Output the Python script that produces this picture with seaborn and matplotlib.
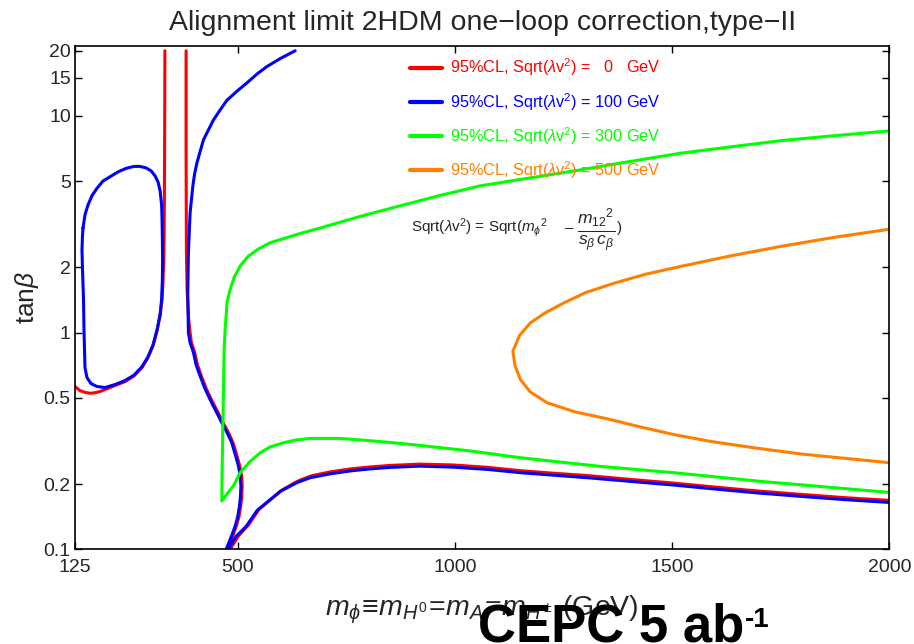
import matplotlib
matplotlib.use("Agg")
import matplotlib.pyplot as plt
import seaborn as sns
from matplotlib.lines import Line2D
from matplotlib.ticker import FixedLocator, FixedFormatter, NullLocator

# ---------------- data ----------------
# blue (100 GeV): closed loop at low mass
blue_loop_x = [143.4, 148, 155, 164.2, 175.7, 189.5, 205.7, 224.1, 242.5, 261, 274.8, 288.6, 300.2, 309.4,
               316.3, 320.9, 324.4, 325.5, 326.2, 326.7, 326.2, 324.4, 320.9, 314, 304.8, 293.2, 279.4, 261,
               240.2, 217.2, 194.1, 175.7, 161.9, 152.7, 148, 146.9, 145.7, 144.6, 142.3, 141.1, 142.3, 143.4]
blue_loop_y = [3.04, 3.50, 3.89, 4.29, 4.64, 5.01, 5.24, 5.52, 5.73, 5.85, 5.85, 5.76, 5.58, 5.29,
               4.95, 4.52, 3.89, 3.32, 2.68, 2.17, 1.755, 1.42, 1.21, 1.032, 0.88, 0.775, 0.697, 0.637,
               0.601, 0.576, 0.558, 0.564, 0.582, 0.619, 0.689, 0.835, 1.032, 1.42, 1.95, 2.41, 2.83, 3.04]
# blue right branch (top -> bottom)
blue_r_x = [632, 597.5, 566.8, 543.8, 520.7, 497.7, 474.6, 459.2, 443.7, 432.2, 420.7, 413.1, 405.5, 400,
            396.2, 390, 386.1, 384.7, 386.1, 390, 397.7, 403.9, 413.1, 424.6, 436.1, 449.9, 463, 475.3,
            486.1, 494.9, 501.4, 505.8, 507, 506, 503.7, 499.5, 493.8, 484.6, 473]
blue_r_y = [20, 18.4, 16.9, 15.6, 14.2, 13.0, 11.8, 10.66, 9.58, 8.62, 7.75, 6.85, 6.05, 5.35,
            4.72, 3.56, 2.33, 1.52, 1.0, 0.90, 0.81, 0.71, 0.63, 0.55, 0.491, 0.433, 0.384, 0.345,
            0.31, 0.27, 0.242, 0.216, 0.196, 0.175, 0.158, 0.141, 0.128, 0.114, 0.1]
# blue lower branch
blue_l_x = [477.6, 496, 519.1, 544.5, 569.8, 597.5, 635.9, 666.6, 712.7, 758.8, 804.9, 851, 920.1, 996.2,
            1074.5, 1150.6, 1226.6, 1304.3, 1404, 1503.9, 1595.4, 1688.3, 1795.9, 1899.6, 2000]
blue_l_y = [0.1, 0.1148, 0.1276, 0.1513, 0.1665, 0.185, 0.203, 0.214, 0.223, 0.230, 0.235, 0.2388, 0.242, 0.2394,
            0.2337, 0.2257, 0.2198, 0.214, 0.2058, 0.1979, 0.190, 0.1826, 0.1755, 0.1694, 0.1645]

# red (0 GeV)
red_a_x = [125, 136.5, 148, 159.6, 171.1, 182.6, 194.1, 217.2, 240.2, 261, 279.4, 293.2, 304.8, 314,
           320.9, 325.5, 327.8, 329.4, 330.1, 330.8, 331.3, 331.7, 332]
red_a_y = [0.564, 0.54, 0.53, 0.525, 0.528, 0.535, 0.546, 0.57, 0.594, 0.631, 0.69, 0.766, 0.87, 1.02,
           1.2, 1.42, 1.755, 2.17, 2.68, 4.1, 6.97, 11.85, 20]
red_b_x = [380.8, 380.8, 381.5, 383.1, 386.5, 390, 393, 400.5, 407, 416, 427.5, 439, 453, 466, 478.5,
           489, 498, 504.5, 509, 510, 509, 506.5, 502.5, 496.5, 487.5, 476]
red_b_y = [20, 6.97, 2.41, 1.58, 1.17, 1.0, 0.90, 0.81, 0.71, 0.63, 0.55, 0.491, 0.433, 0.384, 0.345,
           0.31, 0.27, 0.242, 0.216, 0.196, 0.175, 0.158, 0.141, 0.128, 0.114, 0.1]
red_c_x = [482.2, 500.7, 523.7, 549.1, 574.4, 602.1, 638.9, 668.9, 712.7, 758.8, 804.9, 851, 920.1, 996.2,
           1074.5, 1150.6, 1226.6, 1304.3, 1404, 1503.9, 1595.4, 1688.3, 1795.9, 1899.6, 2000]
red_c_y = [0.1, 0.1148, 0.129, 0.153, 0.169, 0.188, 0.2069, 0.2183, 0.2277, 0.235, 0.240, 0.2439, 0.2473, 0.245,
           0.239, 0.2306, 0.2245, 0.219, 0.2102, 0.2021, 0.194, 0.1865, 0.1793, 0.173, 0.1682]

# green (300 GeV), one continuous curve
green_x = [2000, 1876.6, 1750, 1634.6, 1519, 1404, 1289, 1173.6, 1058, 966.2, 874, 781.8, 689.7, 643.6,
           609, 574.4, 546.8, 523.7, 505.3, 491.5, 482.2, 475.3, 470.7, 468.4, 467.3, 466.1, 465, 463.8,
           463.1, 477.6, 489.8, 505.3, 528.3, 551.4, 574.4, 605.1, 634.3, 666.6, 701.2, 735.7, 781.8,
           851, 920.1, 1035.3, 1150.6, 1334.9, 1503.9, 1703.7, 1864.9, 2000]
green_y = [8.53, 8.12, 7.69, 7.20, 6.73, 6.17, 5.64, 5.18, 4.76, 4.30, 3.85, 3.44, 3.04, 2.87,
           2.73, 2.6, 2.43, 2.25, 2.03, 1.80, 1.58, 1.39, 1.03, 0.835, 0.607, 0.442, 0.321, 0.234,
           0.167, 0.183, 0.196, 0.2257, 0.2544, 0.279, 0.2968, 0.3104, 0.3197, 0.3248, 0.325, 0.3248, 0.3197,
           0.3113, 0.3015, 0.2844, 0.2647, 0.2413, 0.2257, 0.2058, 0.1931, 0.183]

# orange (500 GeV)
orange_x = [2000, 1876.6, 1750, 1634.6, 1519, 1438.7, 1366, 1300.6, 1250, 1208.2, 1173.6, 1148.3, 1133.3,
            1138, 1150.6, 1173.6, 1212, 1277.2, 1350.3, 1427.1, 1503.9, 1588.9, 1688.3, 1795.9, 1899.6, 2000]
orange_y = [3.0, 2.76, 2.5, 2.26, 2.02, 1.86, 1.69, 1.53, 1.37, 1.236, 1.11, 0.969, 0.82,
            0.705, 0.607, 0.532, 0.4745, 0.4302, 0.4003, 0.367, 0.3385, 0.3146, 0.2942, 0.2755, 0.2627, 0.251]

legend_labels = [
    r'95%CL, Sqrt($\lambda$v$^2$) =   0   GeV',
    r'95%CL, Sqrt($\lambda$v$^2$) = 100 GeV',
    r'95%CL, Sqrt($\lambda$v$^2$) = 300 GeV',
    r'95%CL, Sqrt($\lambda$v$^2$) = 500 GeV',
]
x_ticks = [125, 500, 1000, 1500, 2000]
y_ticks = [0.1, 0.2, 0.5, 1, 2, 5, 10, 15, 20]
y_tick_labels = ['0.1', '0.2', '0.5', '1', '2', '5', '10', '15', '20']

RED, BLUE, GREEN, ORANGE = '#ff0000', '#0000ff', '#00ff00', '#ff8000'

# ---------------- style ----------------
sns.set_style("ticks")
plt.rcParams['font.family'] = ['Liberation Sans', 'DejaVu Sans']
plt.rcParams['mathtext.fontset'] = 'custom'
plt.rcParams['mathtext.rm'] = 'Liberation Sans'
plt.rcParams['mathtext.it'] = 'Liberation Sans:italic'
plt.rcParams['mathtext.bf'] = 'Liberation Sans:bold'
plt.rcParams['mathtext.sf'] = 'Liberation Sans'

W, H = 914, 644
fig = plt.figure(figsize=(W / 100, H / 100), dpi=100)
L, R, T, B = 75, 889.3, 45.7, 549.3
ax = fig.add_axes([L / W, 1 - B / H, (R - L) / W, (B - T) / H])

segments = [
    (red_a_x, red_a_y, RED),
    (red_b_x, red_b_y, RED),
    (red_c_x, red_c_y, RED),
    (blue_loop_x, blue_loop_y, BLUE),
    (blue_r_x, blue_r_y, BLUE),
    (blue_l_x, blue_l_y, BLUE),
    (green_x, green_y, GREEN),
    (orange_x, orange_y, ORANGE),
]
for xs, ys, col in segments:
    sns.lineplot(x=xs, y=ys, sort=False, estimator=None, color=col,
                 linewidth=2.2, ax=ax, legend=False)
for ln in ax.lines:
    ln.set_solid_joinstyle('round')
    ln.set_solid_capstyle('round')

ax.set_yscale('log')
ax.set_xlim(125, 2000)
ax.set_ylim(0.1, 21.1)
ax.xaxis.set_major_locator(FixedLocator(x_ticks))
ax.xaxis.set_major_formatter(FixedFormatter([str(v) for v in x_ticks]))
ax.yaxis.set_major_locator(FixedLocator(y_ticks))
ax.yaxis.set_major_formatter(FixedFormatter(y_tick_labels))
ax.yaxis.set_minor_locator(NullLocator())
ax.xaxis.set_minor_locator(NullLocator())
ax.tick_params(direction='in', length=5, width=1, top=True, right=True,
               labelsize=14, color='black')
ax.tick_params(axis='x', pad=7)
ax.tick_params(axis='y', pad=3)
for s in ax.spines.values():
    s.set_color('black')
    s.set_linewidth(1.2)
ax.set_xlabel('')
ax.set_ylabel('')

handles = [Line2D([], [], color=c, lw=3) for c in (RED, BLUE, GREEN, ORANGE)]
ax.legend(handles, legend_labels, loc='upper left', bbox_to_anchor=(0.411, 0.978),
          frameon=False, fontsize=11.7, handlelength=2.0, handletextpad=0.5,
          labelspacing=0.76, borderpad=0, borderaxespad=0, labelcolor='linecolor')

renderer = fig.canvas.get_renderer()

# formula annotation, assembled from pieces so that the fraction is full size
fy = 1 - 232 / H
f1 = fig.text(411 / W, fy, r'Sqrt($\lambda$v$^2$) = Sqrt(${m_\phi}^2$', fontsize=11, va='baseline', ha='left')
e1 = f1.get_window_extent(renderer=renderer)
f2 = fig.text((e1.x1 + 17) / W, fy, '\u2013', fontsize=11, va='baseline', ha='left')
e2 = f2.get_window_extent(renderer=renderer)
f3 = fig.text((e2.x1 + 4) / W, 1 - 239 / H, r'$\frac{{m_{12}}^2}{s_\beta\,c_\beta}$', fontsize=18,
              va='baseline', ha='left')
e3 = f3.get_window_extent(renderer=renderer)
fig.text((e3.x1 + 2) / W, fy, ')', fontsize=11, va='baseline', ha='left')

cx = (L + R) / 2 / W
fig.text(cx, 1 - 30 / H, 'Alignment limit 2HDM one\u2212loop correction,type\u2212II',
         ha='center', va='baseline', fontsize=20.5)
fig.text(27 / W, 1 - 297.5 / H, r'tan$\beta$', rotation=90, ha='center', va='center', fontsize=19)
fig.text(cx, 1 - 615 / H,
         r'$m_\phi\!\equiv\!m_{H^0}\!=\!m_A\!=\!m_{H^\pm}$ (GeV)',
         ha='center', va='baseline', fontsize=20.5)
cepc = fig.text(478 / W, 2 / H, 'CEPC 5 ab', ha='left', va='baseline',
                fontsize=38, fontweight='bold', color='black')
bb = cepc.get_window_extent(renderer=renderer)
fig.text((bb.x1 + 1) / W, 1 - 627 / H, '-1', ha='left', va='baseline',
         fontsize=20, fontweight='bold', color='black')

fig.savefig('out.png', dpi=100)
